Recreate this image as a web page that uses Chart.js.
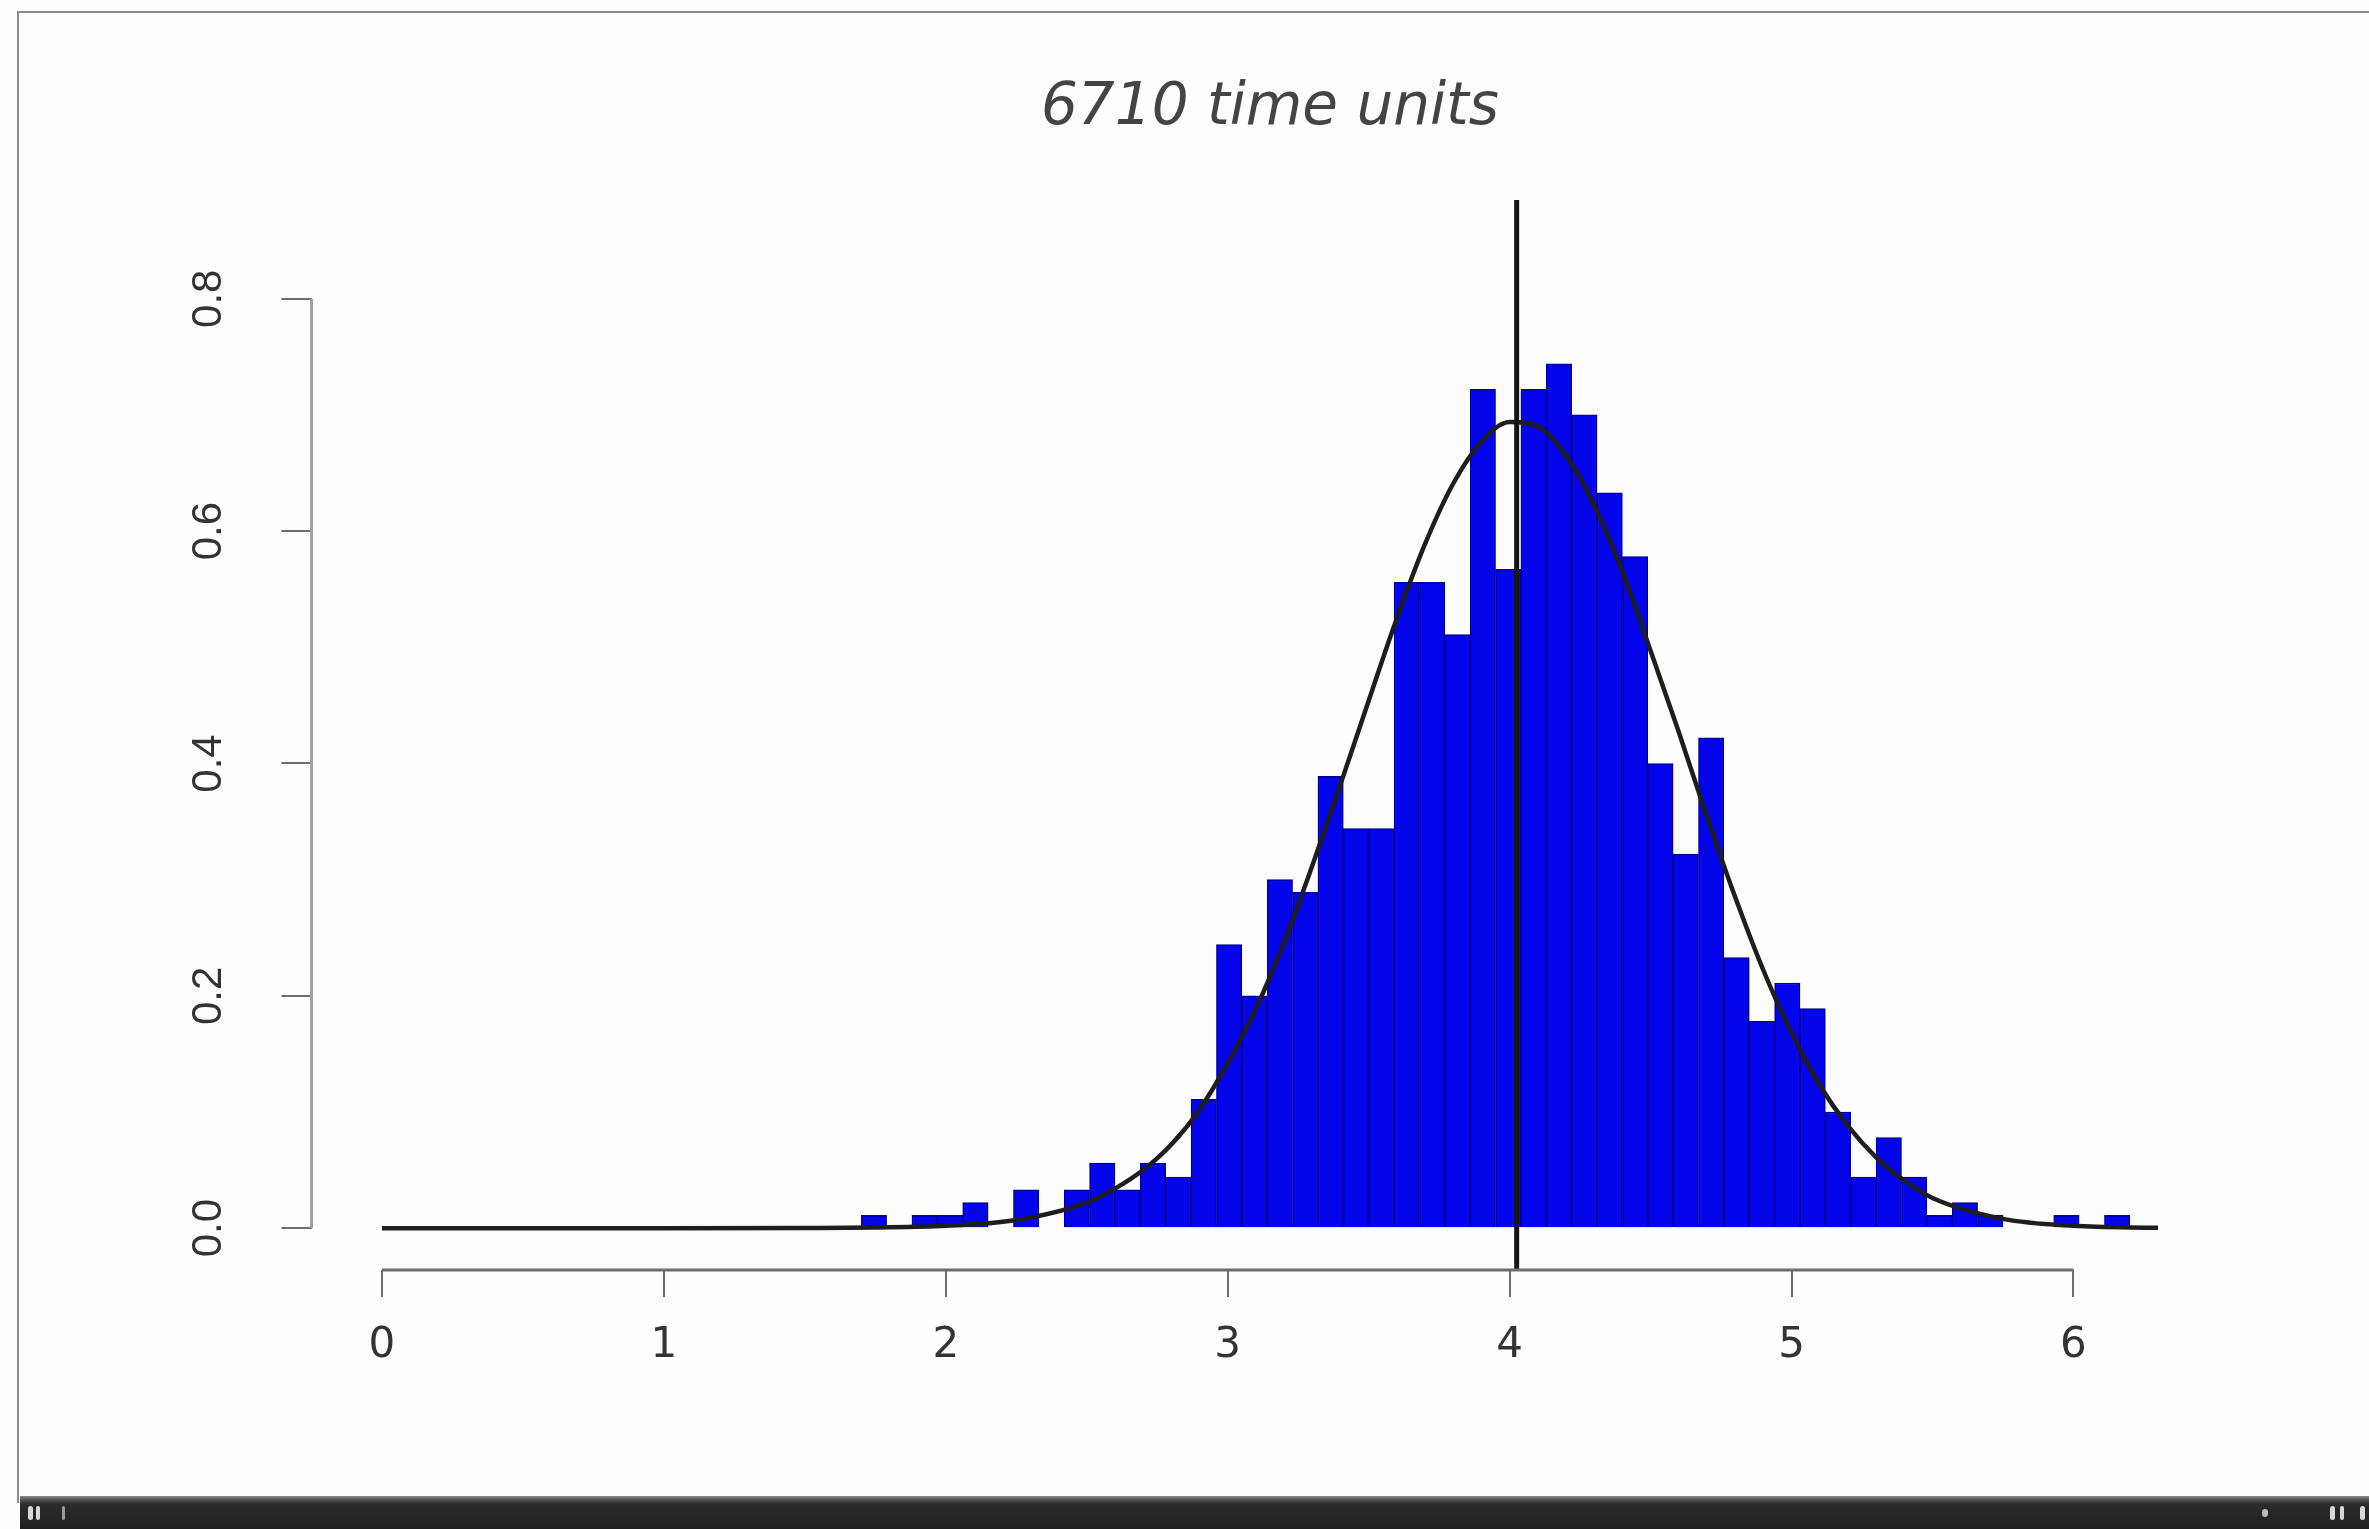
<!DOCTYPE html>
<html>
<head>
<meta charset="utf-8">
<title>6710 time units</title>
<script src="https://cdn.jsdelivr.net/npm/chart.js@4.4.1/dist/chart.umd.min.js"></script>
<style>
  html, body { margin: 0; padding: 0; background: #fdfdfd; }
  body { width: 2369px; height: 1529px; position: relative; overflow: hidden; }
  #frame {
    position: absolute; left: 17px; top: 11px; width: 2400px; height: 1490px;
    border-left: 2px solid #8c8c8c; border-top: 2px solid #8c8c8c;
  }
  #wrap { position: absolute; left: 0; top: 0; width: 2369px; height: 1496px; }
  #player {
    position: absolute; left: 20px; top: 1496px; width: 2349px; height: 33px;
    background: linear-gradient(#8a8a8a 0px, #5c5c5c 3px, #2b2c2b 8px, #1e1f1e 100%);
  }
  .knob { position: absolute; top: 10px; width: 5px; height: 14px; background: #d8d8d8; border-radius: 3px; }
</style>
</head>
<body>
<div id="frame"></div>
<div id="wrap"><canvas id="hist"></canvas></div>
<div id="player">
  <div class="knob" style="left:8px"></div>
  <div class="knob" style="left:16px;width:4px"></div>
  <div class="knob" style="left:42px;width:3px;background:#9a9a9a"></div>
  <div class="knob" style="left:2242px;width:6px;height:8px;top:13px;background:#bbb"></div>
  <div class="knob" style="left:2310px"></div>
  <div class="knob" style="left:2320px;width:4px"></div>
  <div class="knob" style="left:2340px"></div>
</div>
<script>
// Histogram of simulated times (density scale), bin width 0.09
const titleText = '6710 time units';
const binWidth = 0.09;
const binLeft = [
  1.70, 1.79, 1.88, 1.97, 2.06, 2.15, 2.24, 2.33, 2.42, 2.51,
  2.60, 2.69, 2.78, 2.87, 2.96, 3.05, 3.14, 3.23, 3.32, 3.41,
  3.50, 3.59, 3.68, 3.77, 3.86, 3.95, 4.04, 4.13, 4.22, 4.31,
  4.40, 4.49, 4.58, 4.67, 4.76, 4.85, 4.94, 5.03, 5.12, 5.21,
  5.30, 5.39, 5.48, 5.57, 5.66, 5.75, 5.84, 5.93, 6.02, 6.11
];
const density = [
  0.011, 0, 0.011, 0.011, 0.022, 0, 0.033, 0, 0.033, 0.056,
  0.033, 0.056, 0.044, 0.111, 0.244, 0.200, 0.300, 0.289, 0.389, 0.344,
  0.344, 0.556, 0.556, 0.511, 0.722, 0.567, 0.722, 0.744, 0.700, 0.633,
  0.578, 0.400, 0.322, 0.422, 0.233, 0.178, 0.211, 0.189, 0.100, 0.044,
  0.078, 0.044, 0.011, 0.022, 0.011, 0, 0, 0.011, 0, 0.011
];

// Fitted density curve
const curveX = [
  0, 0.5, 1.0, 1.5, 1.75, 2.0, 2.25, 2.5, 2.6, 2.7, 2.8, 2.9,
  3.0, 3.1, 3.2, 3.3, 3.4, 3.5, 3.6, 3.7, 3.8, 3.9,
  4.0, 4.1, 4.2, 4.3, 4.4, 4.5, 4.6, 4.7, 4.8, 4.9,
  5.0, 5.1, 5.2, 5.3, 5.4, 5.5, 5.75, 6.0, 6.3
];
const curveY = [
  0, 0, 0, 0.0002, 0.0006, 0.002, 0.007, 0.022, 0.034, 0.050, 0.072, 0.102,
  0.142, 0.189, 0.246, 0.312, 0.382, 0.454, 0.525, 0.589, 0.641, 0.677,
  0.694, 0.690, 0.665, 0.622, 0.565, 0.497, 0.427, 0.354, 0.285, 0.222,
  0.168, 0.123, 0.088, 0.061, 0.041, 0.026, 0.008, 0.002, 0.0003
];

// Mean marker
const meanTime = 4.025;

// Axes
const xTicks = [0, 1, 2, 3, 4, 5, 6];
const yTicks = [0, 0.2, 0.4, 0.6, 0.8];
const xRange = [-0.25, 6.55];
const yRange = [-0.036, 0.885];

// Detached axis lines spanning only the first..last tick
const axisLines = {
  id: 'axisLines',
  afterDatasetsDraw(chart) {
    const { ctx, scales: { x, y } } = chart;
    ctx.save();
    ctx.lineWidth = 3;
    ctx.strokeStyle = '#a2a2a2';
    ctx.beginPath();
    ctx.moveTo(y.right, y.getPixelForValue(yTicks[0]));
    ctx.lineTo(y.right, y.getPixelForValue(yTicks[yTicks.length - 1]));
    ctx.stroke();
    ctx.strokeStyle = '#6e6e6e';
    ctx.beginPath();
    ctx.moveTo(x.getPixelForValue(xTicks[0]), x.top);
    ctx.lineTo(x.getPixelForValue(xTicks[xTicks.length - 1]), x.top);
    ctx.stroke();
    ctx.restore();
  }
};

new Chart(document.getElementById('hist'), {
  type: 'bar',
  data: {
    datasets: [
      {
        type: 'line',
        data: [{ x: meanTime, y: yRange[0] }, { x: meanTime, y: yRange[1] }],
        borderColor: '#151515',
        borderWidth: 5,
        pointRadius: 0,
        order: 1
      },
      {
        type: 'line',
        data: curveX.map((x, i) => ({ x: x, y: curveY[i] })),
        borderColor: '#1e1e1e',
        borderWidth: 4.5,
        pointRadius: 0,
        cubicInterpolationMode: 'monotone',
        order: 2
      },
      {
        type: 'bar',
        data: binLeft.map((l, i) => ({ x: l + binWidth / 2, y: density[i] })),
        backgroundColor: '#0505ec',
        borderColor: '#0000a0',
        borderWidth: 1.5,
        borderSkipped: 'start',
        barPercentage: 1,
        categoryPercentage: 1,
        order: 3
      }
    ]
  },
  options: {
    responsive: true,
    maintainAspectRatio: false,
    animation: false,
    events: [],
    layout: { padding: { left: 0, right: 140.5, top: 0, bottom: 0 } },
    plugins: {
      legend: { display: false },
      tooltip: { enabled: false },
      title: {
        display: true,
        text: titleText,
        position: 'top',
        align: 'center',
        fullSize: false,
        color: '#444',
        font: { family: 'DejaVu Sans', size: 58, style: 'italic', weight: 'normal', lineHeight: 1.2 },
        padding: { top: 74, bottom: 56.4 }
      }
    },
    scales: {
      x: {
        type: 'linear',
        min: xRange[0],
        max: xRange[1],
        bounds: 'data',
        offset: false,
        afterBuildTicks: s => { s.ticks = xTicks.map(v => ({ value: v })); },
        afterFit: s => { s.height = 226; },
        grid: { display: true, drawOnChartArea: false, drawTicks: true, tickLength: 27, color: '#6e6e6e', lineWidth: 2, offset: false },
        border: { display: false },
        ticks: {
          autoSkip: false, maxRotation: 0, padding: 24, color: '#333',
          font: { family: 'DejaVu Sans', size: 42 },
          callback: v => String(v)
        }
      },
      y: {
        type: 'linear',
        min: yRange[0],
        max: yRange[1],
        bounds: 'data',
        afterBuildTicks: s => { s.ticks = yTicks.map(v => ({ value: v })); },
        afterFit: s => { s.width = 311.5; },
        grid: { display: true, drawOnChartArea: false, drawTicks: true, tickLength: 30, color: '#6e6e6e', lineWidth: 2 },
        border: { display: false },
        ticks: {
          autoSkip: false, minRotation: 90, maxRotation: 90, crossAlign: 'center', padding: 43, color: '#333',
          font: { family: 'Liberation Sans', size: 42 },
          callback: v => v.toFixed(1)
        }
      }
    }
  },
  plugins: [axisLines]
});
</script>
</body>
</html>
